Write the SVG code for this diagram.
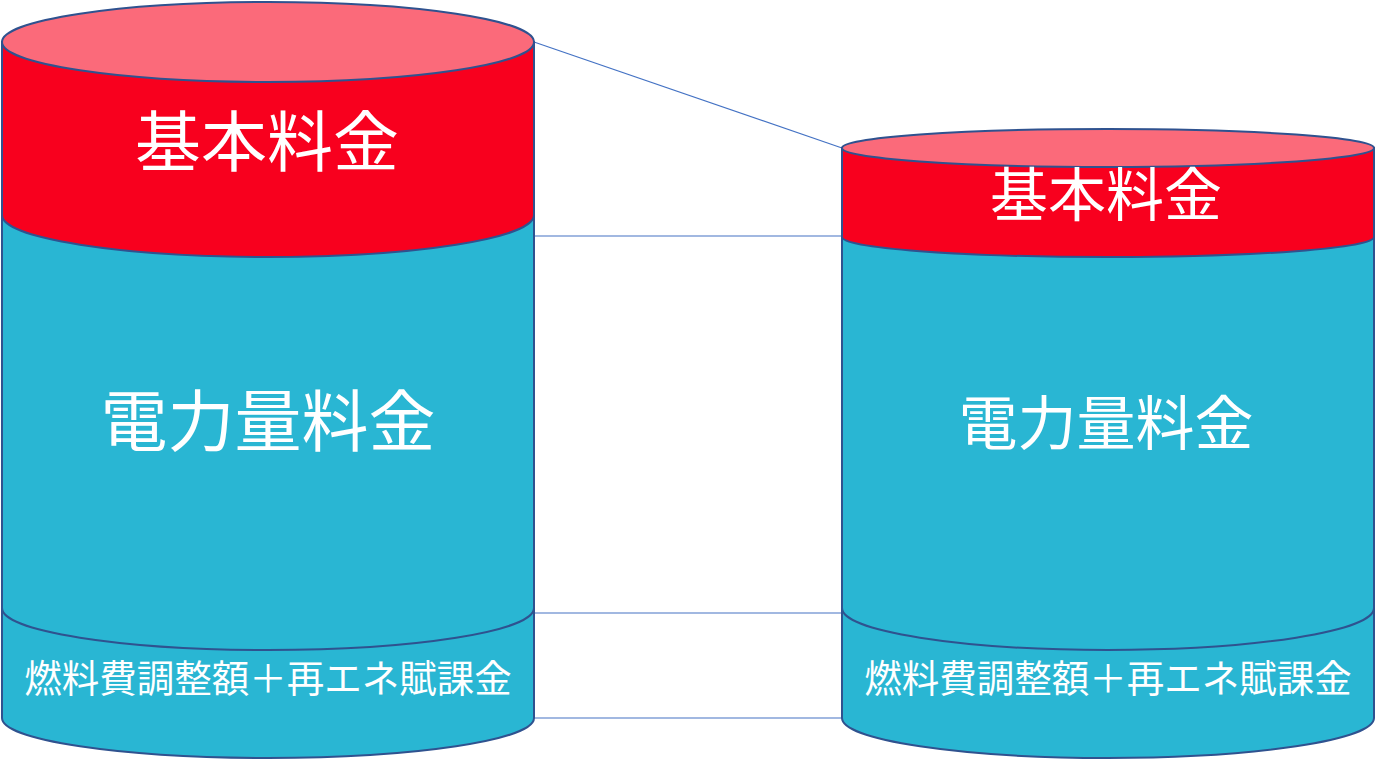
<svg xmlns="http://www.w3.org/2000/svg" width="1375" height="760" viewBox="0 0 1375 760">
<style>
.ed{stroke:#2F528F;stroke-width:2}
.red{fill:#F8001E}
.rtop{fill:#FB6A7A}
.blue{fill:#29B6D3}
.conn{stroke:#4472C4;stroke-width:1.2;fill:none}
.lbl{fill:#FFFFFF;font-family:"Noto Sans CJK JP","Noto Sans",sans-serif;text-anchor:middle;dominant-baseline:central}
</style>
<rect width="1375" height="760" fill="#FFFFFF"/>
<g id="connectors">
<line class="conn" x1="534" y1="42" x2="842" y2="148"/>
<line class="conn" x1="534" y1="236" x2="842" y2="236"/>
<line class="conn" x1="534" y1="613" x2="842" y2="613"/>
<line class="conn" x1="534" y1="718" x2="842" y2="718"/>
</g>
<g id="left-bottom">
<path class="blue ed" d="M2,608 V718 A266,40 0 0 0 534,718 V608 Z"/>
<text class="lbl" x="268" y="675" font-size="37.5">燃料費調整額＋再エネ賦課金</text>
</g>
<g id="left-mid">
<path class="blue ed" d="M2,215 V608 A266,42 0 0 0 534,608 V215 Z"/>
<text class="lbl" x="268" y="416" font-size="67">電力量料金</text>
</g>
<g id="left-top">
<path class="red ed" d="M2,42 V215 A266,42 0 0 0 534,215 V42 Z"/>
<ellipse class="rtop ed" cx="268" cy="42" rx="266" ry="40"/>
<text class="lbl" x="267" y="137" font-size="66">基本料金</text>
</g>
<g id="right-bottom">
<path class="blue ed" d="M842,608 V718 A266,40 0 0 0 1374,718 V608 Z"/>
<text class="lbl" x="1108" y="675" font-size="37.5">燃料費調整額＋再エネ賦課金</text>
</g>
<g id="right-mid">
<path class="blue ed" d="M842,237 V608 A266,42 0 0 0 1374,608 V237 Z"/>
<text class="lbl" x="1106" y="419" font-size="59">電力量料金</text>
</g>
<g id="right-top">
<path class="red ed" d="M842,148 V237 A266,20 0 0 0 1374,237 V148 Z"/>
<ellipse class="rtop ed" cx="1108" cy="148" rx="266" ry="19"/>
<text class="lbl" x="1106" y="191" font-size="58">基本料金</text>
</g>
</svg>
